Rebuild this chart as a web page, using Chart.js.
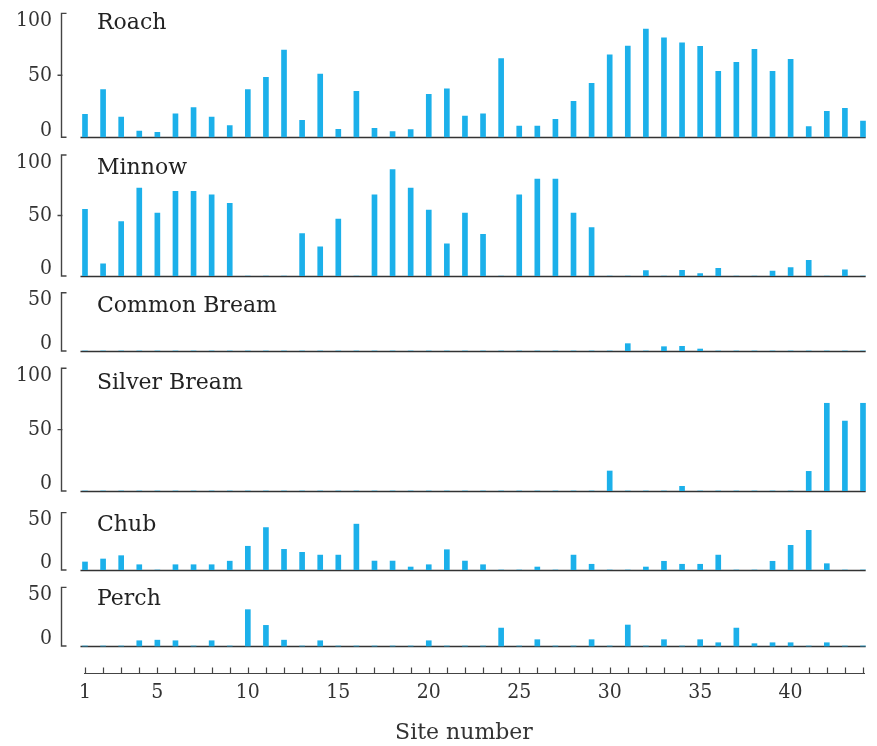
<!DOCTYPE html>
<html>
<head>
<meta charset="utf-8">
<title>Fish catch by site</title>
<script src="https://cdn.jsdelivr.net/npm/chart.js@4.4.1/dist/chart.umd.min.js"></script>
<style>
  html, body { margin: 0; padding: 0; background: #ffffff; }
  canvas { display: block; }
</style>
</head>
<body>
<canvas id="fishChart" width="877" height="746"></canvas>
<script>
// Sites along the river and the catch of each species at every site
const sites = [1, 2, 3, 4, 5, 6, 7, 8, 9, 10, 11, 12, 13, 14, 15, 16, 17, 18, 19, 20, 21, 22,
               23, 24, 25, 26, 27, 28, 29, 30, 31, 32, 33, 34, 35, 36, 37, 38, 39, 40, 41, 42, 43, 44];
const siteTicks = [1, 5, 10, 15, 20, 25, 30, 35, 40];

const roach = [18.5, 38.5, 16.4, 5, 4, 19, 24, 16.4, 9.4, 38.5, 48.4, 70.4, 13.7, 51, 6.5, 37, 7.3, 4.6, 6.2, 34.7, 39, 17.2,
               19, 63.4, 9, 9, 14.5, 29, 43.5, 66.6, 73.6, 87.3, 80.3, 76.3, 73.4, 53.2, 60.5, 71, 53.2, 62.9, 8.6, 21, 23.4, 13.1];
const minnow = [55, 10, 45, 72.6, 52, 70, 70, 67, 60, 0, 0, 0, 35, 24, 47, 0, 67, 88, 72.6, 54.5, 26.5, 52,
                34.5, 0, 67, 80, 80, 52, 40, 0, 0, 4.4, 0, 4.6, 2, 6.3, 0, 0, 4, 7, 13, 0, 5, 0];
const commonBream = [0, 0, 0, 0, 0, 0, 0, 0, 0, 0, 0, 0, 0, 0, 0, 0, 0, 0, 0, 0, 0, 0,
                     0, 0, 0, 0, 0, 0, 0, 0, 6.3, 0, 3.7, 4, 1.7, 0, 0, 0, 0, 0, 0, 0, 0, 0];
const silverBream = [0, 0, 0, 0, 0, 0, 0, 0, 0, 0, 0, 0, 0, 0, 0, 0, 0, 0, 0, 0, 0, 0,
                     0, 0, 0, 0, 0, 0, 0, 16.3, 0, 0, 0, 3.8, 0, 0, 0, 0, 0, 0, 16, 71.5, 57, 71.5];
const chub = [7, 9.6, 12.5, 4.6, 0, 4.6, 4.6, 4.6, 7.7, 20.7, 37, 18, 15.4, 13, 13, 40, 7.8, 7.8, 2.6, 4.6, 17.7, 7.8,
              4.6, 0, 0, 2.6, 0, 13, 5, 0, 0, 2.6, 7.6, 5, 5, 13, 0, 0, 7.6, 21.5, 34.6, 5.5, 0, 0];
const perch = [0, 0, 0, 4.5, 5, 4.5, 0, 4.5, 0, 31, 17.6, 5, 0, 4.5, 0, 0, 0, 0, 0, 4.5, 0, 0,
               0, 15.3, 0, 5.4, 0, 0, 5.4, 0, 17.9, 0, 5.4, 0, 5.4, 2.8, 15.3, 2, 2.8, 2.8, 0, 2.8, 0, 0];

const SERIF = "'DejaVu Serif', serif";
const LABEL_FONT = "'DejaVu Serif Condensed', 'DejaVu Serif', serif";
const INK = '#333333';
const BAR_BLUE = '#1cb0ea';

// One stacked y axis per species, top to bottom; height is the strip height in px
const panels = [
  { id: 'roach',  name: 'Roach',        values: roach,       ticks: [0, 50, 100], min: 0,   max: 104.3, height: 129.3, titleDy: 16 },
  { id: 'minnow', name: 'Minnow',       values: minnow,      ticks: [0, 50, 100], min: 0,   max: 114.6, height: 138.7, titleDy: 19 },
  { id: 'cbream', name: 'Common Bream', values: commonBream, ticks: [0, 50],      min: 0,   max: 64.3,  height: 75,    titleDy: 19 },
  { id: 'sbream', name: 'Silver Bream', values: silverBream, ticks: [0, 50, 100], min: 0,   max: 114.1, height: 140,   titleDy: 21 },
  { id: 'chub',   name: 'Chub',         values: chub,        ticks: [0, 50],      min: 0,   max: 68.9,  height: 79,    titleDy: 18 },
  { id: 'perch',  name: 'Perch',        values: perch,       ticks: [0, 50],      min: -23, max: 64.8,  height: 103,   titleDy: 18 }
];

const datasets = panels.map(p => ({
  label: p.name,
  data: sites.map((s, i) => ({ x: s, y: p.values[i] })),
  yAxisID: p.id,
  backgroundColor: BAR_BLUE,
  borderWidth: 0,
  barThickness: 5,
  grouped: false
}));

const scales = {
  x: {
    type: 'linear',
    offset: false,
    min: -0.271,
    max: 44.166,
    afterBuildTicks: s => { s.ticks = siteTicks.map(v => ({ value: v })); },
    afterFit: s => { s.height = 73; s.paddingLeft = 0; s.paddingRight = 0; },
    grid: { display: false, drawTicks: false, offset: false },
    border: { display: false },
    ticks: { autoSkip: false, maxRotation: 0, padding: 7, color: INK, font: { family: LABEL_FONT, size: 21 } },
    title: { display: true, text: 'Site number', color: INK, font: { family: SERIF, size: 22 }, padding: { top: 0, bottom: 0 } }
  }
};

panels.forEach((p, i) => {
  const top = p.ticks[p.ticks.length - 1];
  scales[p.id] = {
    type: 'linear',
    position: 'left',
    stack: 'fish',
    stackWeight: p.height,
    weight: 10 - i,
    min: p.min,
    max: p.max,
    afterBuildTicks: s => { s.ticks = p.ticks.map(v => ({ value: v })); },
    afterFit: s => { s.width = 62; s.paddingTop = 0; s.paddingBottom = 0; },
    grid: { display: false, drawTicks: false },
    border: { display: false },
    ticks: {
      padding: 10,
      color: INK,
      font: { family: LABEL_FONT, size: 21, lineHeight: 0.68 },
      // top label hangs below its tick, the zero label sits on it
      callback: v => v === top ? ['', String(v)] : (v === 0 ? [String(v), ''] : String(v))
    }
  };
});

// Baselines, bracket axes, species names and the site ruler
const panelFrame = {
  id: 'panelFrame',
  beforeDatasetsDraw(chart) {
    const { ctx } = chart;
    const x = chart.scales.x;
    ctx.save();
    ctx.strokeStyle = INK;
    ctx.lineWidth = 1.6;
    panels.forEach(p => {
      const y = Math.round(chart.scales[p.id].getPixelForValue(0)) + 0.5;
      ctx.beginPath();
      ctx.moveTo(x.getPixelForValue(0.75), y);
      ctx.lineTo(x.getPixelForValue(44.15), y);
      ctx.stroke();
    });
    ctx.restore();
  },
  afterDraw(chart) {
    const { ctx, chartArea } = chart;
    const x = chart.scales.x;
    const ax = chartArea.left - 0.5;
    ctx.save();
    ctx.strokeStyle = '#444444';
    ctx.lineWidth = 1.4;
    panels.forEach(p => {
      const sc = chart.scales[p.id];
      const top = p.ticks[p.ticks.length - 1];
      const yTop = sc.getPixelForValue(top);
      const y0 = sc.getPixelForValue(0);
      ctx.beginPath();
      ctx.moveTo(ax + 5, yTop);
      ctx.lineTo(ax, yTop);
      ctx.lineTo(ax, y0);
      ctx.lineTo(ax + 5, y0);
      p.ticks.filter(v => v !== 0 && v !== top).forEach(v => {
        const ym = sc.getPixelForValue(v);
        ctx.moveTo(ax - 4, ym);
        ctx.lineTo(ax + 1, ym);
      });
      ctx.stroke();

      ctx.fillStyle = '#222222';
      ctx.font = '22px ' + SERIF;
      ctx.textBaseline = 'alphabetic';
      ctx.textAlign = 'left';
      ctx.fillText(p.name, 97, yTop + p.titleDy);
    });

    // ruler under the strips, one tick per site
    const ry = Math.round(chartArea.bottom) + 0.5;
    ctx.lineWidth = 1.2;
    ctx.beginPath();
    ctx.moveTo(x.getPixelForValue(sites[0]) - 1, ry);
    ctx.lineTo(x.getPixelForValue(sites[sites.length - 1]) + 2, ry);
    sites.forEach(s => {
      const px = Math.round(x.getPixelForValue(s)) + 0.5;
      ctx.moveTo(px, ry);
      ctx.lineTo(px, ry - 6);
    });
    ctx.stroke();
    ctx.restore();
  }
};

const fishChart = new Chart(document.getElementById('fishChart').getContext('2d'), {
  type: 'bar',
  data: { datasets: datasets },
  options: {
    responsive: false,
    animation: false,
    devicePixelRatio: 1,
    layout: { padding: { top: 8, right: 11, bottom: 0, left: 0 } },
    plugins: { legend: { display: false }, tooltip: { enabled: false } },
    scales: scales
  },
  plugins: [panelFrame]
});
</script>
</body>
</html>
